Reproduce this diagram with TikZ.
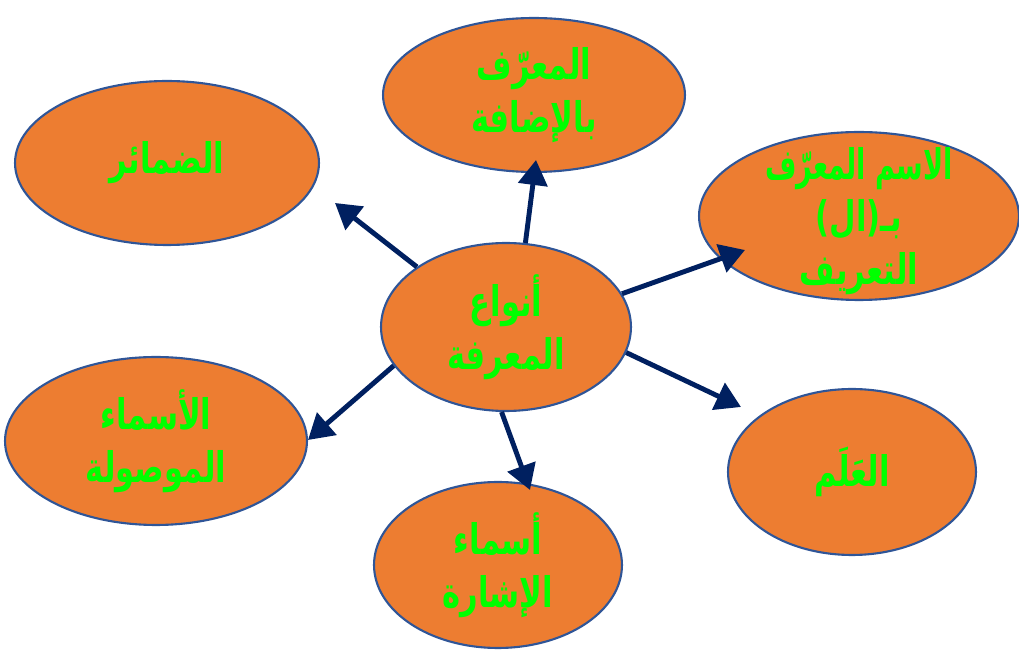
\documentclass[tikz,border=0pt]{standalone}
\usepackage{fontspec}
\usetikzlibrary{shapes.geometric,arrows.meta}
\newfontfamily\arabicfont[Script=Arabic]{DejaVu Sans}
\TeXXeTstate=1
\definecolor{ovalfill}{HTML}{ED7D31}
\definecolor{ovaldraw}{HTML}{2F5597}
\definecolor{txtgreen}{HTML}{00FF00}
\definecolor{arrowblue}{HTML}{002060}
\newcommand\shp[1]{\scalebox{0.87}[1.2]{#1}}
\newcommand\shpn[1]{\scalebox{0.77}[1.2]{#1}}
\tikzset{
  oval/.style={ellipse, fill=ovalfill, draw=ovaldraw, line width=1.2pt, inner sep=0pt},
  ovaltext/.style={align=center, text=txtgreen, inner sep=0pt,
    font=\arabicfont\bfseries\fontsize{20}{30}\selectfont},
  conn/.style={draw=arrowblue, line width=2.8pt,
    -{Triangle[length=0.5cm, width=0.58cm]}}
}
\begin{document}
\begin{tikzpicture}[x=0.02cm,y=-0.02cm]
\useasboundingbox (0,0) rectangle (1019,651);
\node[oval, minimum width=6.04cm, minimum height=3.08cm,
  label={[ovaltext]center:\shp{\beginR المعرّف\endR}\\\shp{\beginR بالإضافة\endR}}] (idafa) at (534,95) {};
\node[oval, minimum width=6.4cm, minimum height=3.36cm,
  label={[ovaltext, yshift=-0.1cm]center:\shpn{\beginR الاسم المعرّف\endR}\\\shp{\beginR بـ(ال)\endR}\\\shp{\beginR التعريف\endR}}] (al) at (859,216) {};
\node[oval, minimum width=6.08cm, minimum height=3.28cm,
  label={[ovaltext]center:\shp{\beginR الضمائر\endR}}] (damair) at (167,163) {};
\node[oval, minimum width=5.0cm, minimum height=3.36cm,
  label={[ovaltext]center:\shp{\beginR أنواع\endR}\\\shp{\beginR المعرفة\endR}}] (c) at (506,327) {};
\node[oval, minimum width=6.04cm, minimum height=3.36cm,
  label={[ovaltext]center:\shp{\beginR الأسماء\endR}\\\shp{\beginR الموصولة\endR}}] (mawsula) at (156,441) {};
\node[oval, minimum width=4.96cm, minimum height=3.32cm,
  label={[ovaltext]center:\shp{\beginR أسماء\endR}\\\shp{\beginR الإشارة\endR}}] (ishara) at (498,565) {};
\node[oval, minimum width=4.96cm, minimum height=3.32cm,
  label={[ovaltext]center:\shp{\beginR العَلَم\endR}}] (alam) at (852,472) {};
\coordinate (tIdafa) at (536,160);
\coordinate (tDamair) at (335,203);
\coordinate (tAl) at (745,250);
\coordinate (tAlam) at (741,407);
\coordinate (tMawsula) at (308,440);
\coordinate (tIshara) at (530,490);
\draw[conn] (c.77) -- (tIdafa);
\draw[conn] (c.146) -- (tDamair);
\draw[conn] (c.16) -- (tAl);
\draw[conn] (c.-12) -- (tAlam);
\draw[conn] (c.199) -- (tMawsula);
\draw[conn] (c.267) -- (tIshara);
\end{tikzpicture}
\end{document}
